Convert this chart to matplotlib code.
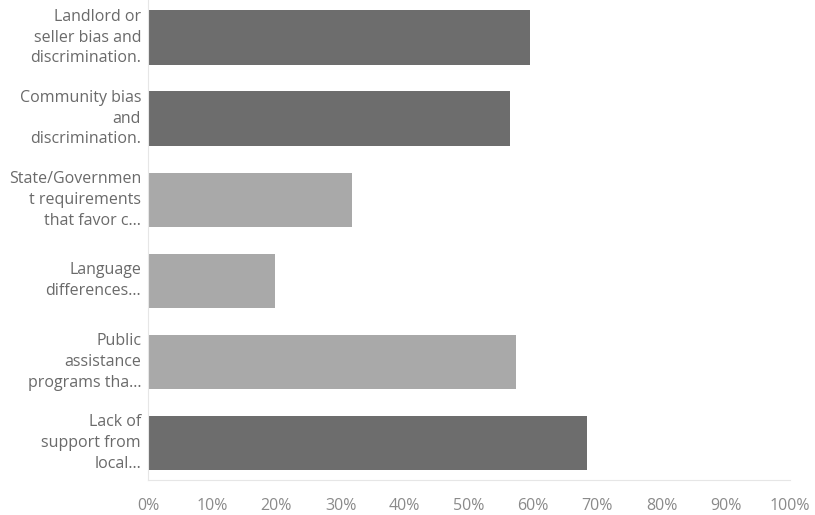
import matplotlib
matplotlib.use("Agg")
import matplotlib.pyplot as plt

categories = [
    "Landlord or\nseller bias and\ndiscrimination.",
    "Community bias\nand\ndiscrimination.",
    "State/Governmen\nt requirements\nthat favor c...",
    "Language\ndifferences...",
    "Public\nassistance\nprograms tha...",
    "Lack of\nsupport from\nlocal...",
]
values = [59.5, 56.4, 31.8, 19.8, 57.3, 68.4]
bar_colors = ["#6d6d6d", "#6d6d6d", "#a9a9a9", "#a9a9a9", "#a9a9a9", "#6d6d6d"]
tick_values = list(range(0, 101, 10))
tick_labels = [f"{v}%" for v in tick_values]

plt.rcParams["font.family"] = ["Open Sans", "DejaVu Sans"]

fig = plt.figure(figsize=(8.15, 5.15), dpi=100)
ax = fig.add_axes([148 / 815, 35 / 515, 642 / 815, 480 / 515])

ypos = list(range(len(categories)))
ax.barh(ypos, values, height=0.67, color=bar_colors, edgecolor="none")

ax.set_xlim(0, 100)
ax.set_ylim(5.457, -0.463)

ax.set_yticks(ypos)
ax.set_yticklabels(categories, fontsize=11.5, color="#6a6a6a", linespacing=1.4,
                   ha="right", va="center")
ax.set_xticks(tick_values)
ax.set_xticklabels(tick_labels, fontsize=11.5, color="#8a8a8a")
ax.tick_params(axis="both", length=0)
ax.tick_params(axis="x", pad=13)
ax.tick_params(axis="y", pad=5)

for side in ["top", "right"]:
    ax.spines[side].set_visible(False)
ax.spines["left"].set_color("#e6e6e6")
ax.spines["bottom"].set_color("#e6e6e6")

fig.savefig("out.png", dpi=100, facecolor="white")
